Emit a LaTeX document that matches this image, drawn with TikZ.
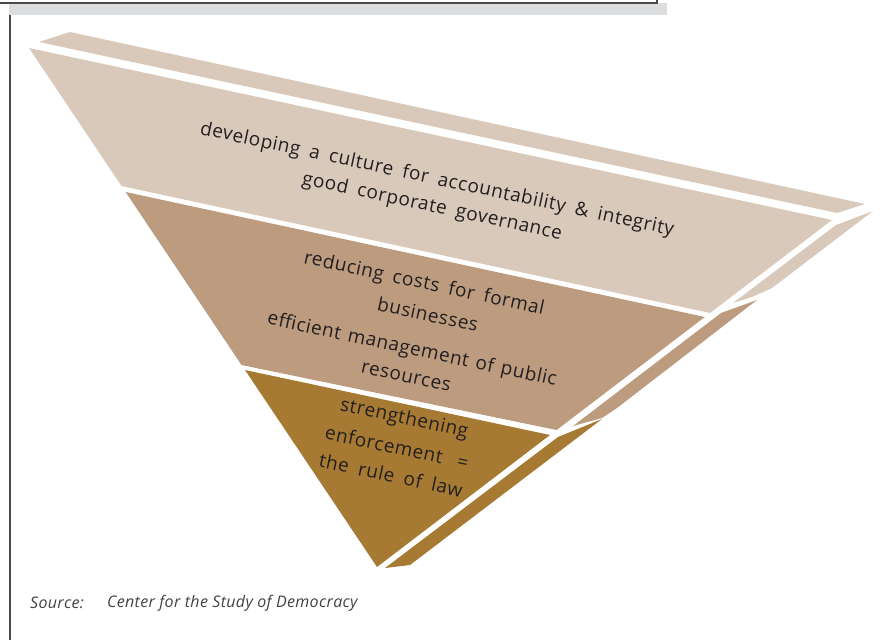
\documentclass[tikz,border=0pt]{standalone}
\usepackage{fontspec}
\setmainfont{Open Sans}
\newfontfamily\lblfont[LetterSpace=3]{Open Sans}
\newfontfamily\srcfont[LetterSpace=2]{Open Sans}
\definecolor{layerA}{HTML}{D9C9BB}
\definecolor{layerB}{HTML}{BC9B7F}
\definecolor{layerC}{HTML}{A77A33}
\definecolor{frameband}{HTML}{DCDDDE}
\definecolor{frameline}{HTML}{4A4A4A}
\definecolor{txt}{HTML}{231F20}
\begin{document}
\begin{tikzpicture}[x=1pt,y=-1pt,
  lbl/.style={rotate=-12.1, inner sep=0pt, text=txt, font=\lblfont\fontsize{19}{22}\selectfont},
  src/.style={inner sep=0pt, anchor=west, text=txt!85, font=\srcfont\fontsize{16}{18}\selectfont\itshape}]
\useasboundingbox (0,0) rectangle (890,639);
\begin{scope}
\clip (0,0) rectangle (890,639);
% top frame
\fill[frameband] (9,3) rectangle (667,15);
\draw[frameline, line width=1.4pt] (-5,-5) rectangle (657,3);
\draw[frameline, line width=2pt] (10,15) -- (10,645);
\end{scope}
% top strip and side pieces
\fill[layerA] (39,42) -- (70,32) -- (865,204) -- (837,213) -- cycle;
\fill[layerA] (836,225) -- (873,211) -- (772,288) -- (752,297) -- (733,303) -- cycle;
\fill[layerB] (721,313) -- (757,300) -- (617,408) -- (602,418) -- (573,426) -- cycle;
\fill[layerC] (558,437) -- (602,419) -- (410,565) -- (385,568) -- cycle;
% front bands
\fill[layerA] (29,48) -- (832,220) -- (710,313) -- (121.5,186) -- cycle;
\fill[layerB] (125.6,192) -- (704.8,317) -- (556.6,430) -- (241.5,365) -- cycle;
\fill[layerC] (245,370) -- (550,435) -- (377,567) -- cycle;
% labels
\node[lbl] (t1a) at (437,180) {\makebox[484pt][s]{developing a culture for accountability \& integrity}};
\node[lbl] (t1b) at (432,207) {\makebox[265pt][s]{good corporate governance}};
\node[lbl] (t2a) at (424,284) {\makebox[245pt][s]{reducing costs for formal}};
\node[lbl] (t2b) at (428,314) {businesses};
\node[lbl] (t2c) at (412,350) {\makebox[295pt][s]{efficient management of public}};
\node[lbl] (t2d) at (406,377) {resources};
\node[lbl] (t3a) at (404,419) {strengthening};
\node[lbl] (t3b) at (397,447) {\makebox[146pt][s]{enforcement =}};
\node[lbl] (t3c) at (391,475) {\makebox[146pt][s]{the rule of law}};
% source
\node[src] (s1) at (30,603) {Source:};
\node[src] (s2) at (107,603) {Center for the Study of Democracy};
\end{tikzpicture}
\end{document}
